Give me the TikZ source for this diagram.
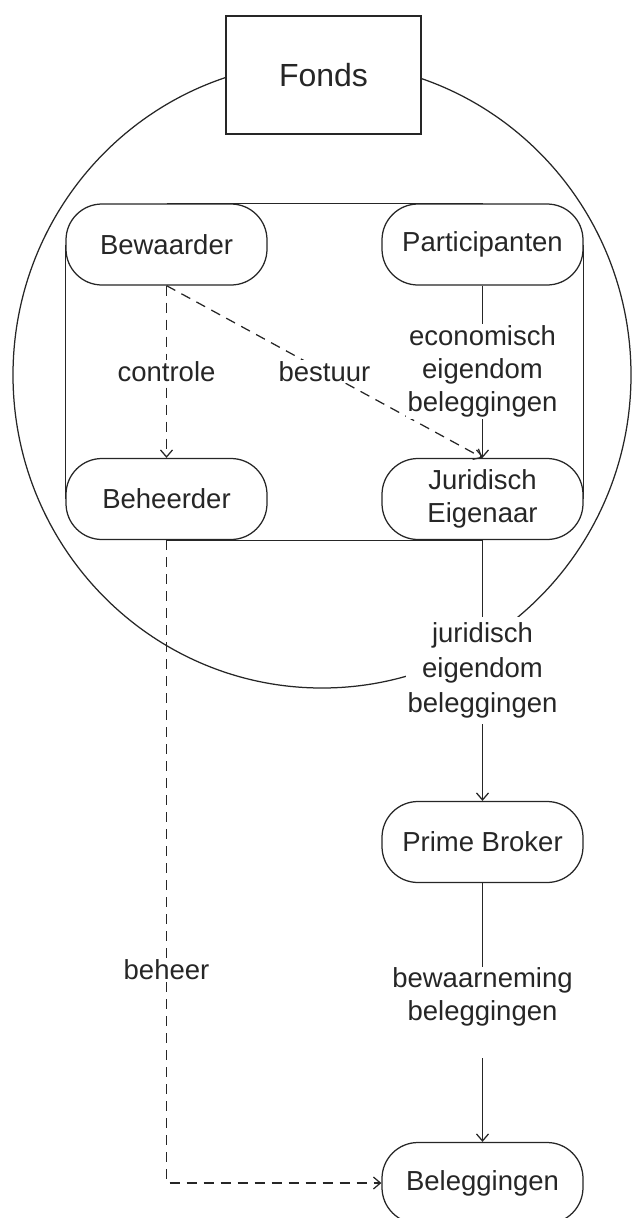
\documentclass[tikz,border=0pt]{standalone}
\usepackage{fontspec}
\setmainfont{Liberation Sans}
\usetikzlibrary{arrows.meta,backgrounds}
\begin{document}
\begin{tikzpicture}[x=1pt,y=-1pt,
  every node/.style={font=\fontsize{27.5}{33}\selectfont, text=black!85},
  thin line/.style={line width=1.25pt, draw=black!85},
  box/.style={thin line, fill=white, rounded corners=36pt, minimum width=201pt, minimum height=81pt, inner sep=0pt, align=center},
  fondsbox/.style={thin line, fill=white, minimum width=195pt, minimum height=118pt, inner sep=0pt, font=\fontsize{32}{38}\selectfont},
  lbl/.style={fill=white, inner sep=1.5pt, align=center},
  tip/.style={-{Straight Barb[length=7pt,width=12pt]}},
  solidarrow/.style={thin line, tip},
  dasharrow/.style={thin line, tip, dash pattern=on 10pt off 7pt}
]
\useasboundingbox (0,0) rectangle (632,1218);

\node[fondsbox] (fonds) at (323.5,75) {Fonds};
\node[box] (bew) at (166.5,244.5) {Bewaarder};
\node[box] (par) at (482.5,244.5) {Participanten};
\node[box] (beh) at (166.5,499) {Beheerder};
\node[box] (jur) at (482.5,499) {Juridisch\\Eigenaar};
\node[box] (pb) at (482.5,842) {Prime Broker};
\node[box] (bel) at (482.5,1183) {Beleggingen};

\begin{scope}[on background layer]
  \draw[thin line] (322,375) ellipse [x radius=309pt, y radius=313pt];
  \draw[thin line] (bew.north) -- (par.north);
  \draw[thin line] (bew.west) -- (beh.west);
  \draw[thin line] (par.east) -- (jur.east);
  \draw[thin line] (beh.south) -- (jur.south);
\end{scope}

\draw[dasharrow] (bew.south) -- node[lbl]{controle} (beh.north);
\draw[dasharrow] (bew.south) -- node[lbl]{bestuur} (jur.north);
\draw[solidarrow] (par.south) -- node[lbl]{economisch\\eigendom\\beleggingen} (jur.north);
\draw[solidarrow] (jur.south) -- node[lbl, inner ysep=6pt, font=\fontsize{27.5}{35}\selectfont]{juridisch\\eigendom\\beleggingen} (pb.north);
\draw[solidarrow] (pb.south) -- node[lbl, text depth=36pt]{bewaarneming\\beleggingen} (bel.north);
\draw[dasharrow] (beh.south) |- node[lbl, pos=0.334]{beheer} (bel.west);
\end{tikzpicture}
\end{document}
